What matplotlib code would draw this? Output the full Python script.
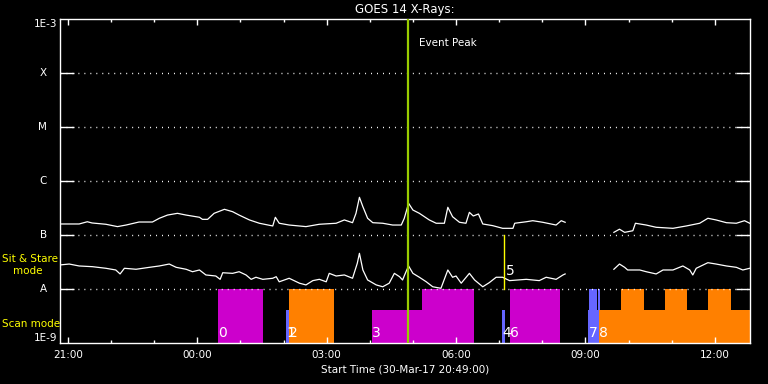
import numpy as np
import matplotlib
matplotlib.use("Agg")
import matplotlib.pyplot as plt
from matplotlib.ticker import MultipleLocator, NullLocator

nan = float("nan")

# time in hours relative to 31-Mar-17 00:00, start 30-Mar-17 20:49
t_start = -3 - 11 / 60
t_end = t_start + 16

# long channel (upper curve), W/m^2
long_t = [-3.20, -2.74, -2.55, -2.44, -2.12, -1.85, -1.65, -1.35, -1.04, -0.88, -0.69, -0.46, -0.26,
          0.05, 0.12, 0.24, 0.39, 0.63, 0.82, 0.97, 1.21, 1.44, 1.75, 1.81, 1.90, 2.13, 2.52, 2.83,
          3.22, 3.41, 3.60, 3.68, 3.76, 3.84, 3.95, 4.07, 4.30, 4.53, 4.73, 4.80, 4.90, 5.00, 5.15,
          5.38, 5.54, 5.73, 5.81, 5.92, 6.08, 6.23, 6.31, 6.40, 6.52, 6.62, 6.85, 7.08, 7.32, 7.36,
          7.63, 7.78, 8.01, 8.32, 8.44, 8.53, 9.00,
          9.66, 9.79, 9.91, 10.10, 10.16, 10.41, 10.64, 11.03, 11.34, 11.65, 11.84, 12.03, 12.27,
          12.50, 12.69, 12.81]
long_f = [1.60e-7, 1.60e-7, 1.76e-7, 1.67e-7, 1.58e-7, 1.43e-7, 1.53e-7, 1.74e-7, 1.74e-7, 2.04e-7,
          2.34e-7, 2.52e-7, 2.34e-7, 2.13e-7, 1.95e-7, 1.95e-7, 2.52e-7, 2.99e-7, 2.70e-7, 2.34e-7,
          1.90e-7, 1.65e-7, 1.47e-7, 2.13e-7, 1.65e-7, 1.53e-7, 1.43e-7, 1.58e-7, 1.65e-7, 1.90e-7,
          1.69e-7, 2.52e-7, 4.99e-7, 3.34e-7, 2.04e-7, 1.69e-7, 1.65e-7, 1.53e-7, 1.53e-7, 2.04e-7,
          3.86e-7, 2.90e-7, 2.52e-7, 1.90e-7, 1.65e-7, 1.65e-7, 3.26e-7, 2.18e-7, 1.72e-7, 1.65e-7,
          2.63e-7, 2.25e-7, 2.45e-7, 1.60e-7, 1.49e-7, 1.33e-7, 1.33e-7, 1.65e-7, 1.76e-7, 1.84e-7,
          1.72e-7, 1.53e-7, 1.84e-7, 1.72e-7, nan,
          1.12e-7, 1.28e-7, 1.12e-7, 1.20e-7, 1.65e-7, 1.53e-7, 1.39e-7, 1.33e-7, 1.47e-7, 1.65e-7,
          2.04e-7, 1.90e-7, 1.69e-7, 1.65e-7, 1.84e-7, 1.65e-7]

# short channel (lower curve), W/m^2
short_t = [-3.20, -2.97, -2.74, -2.43, -2.12, -1.89, -1.79, -1.69, -1.42, -1.11, -0.88, -0.65, -0.49,
           -0.26, -0.11, 0.05, 0.20, 0.43, 0.53, 0.59, 0.82, 0.97, 1.13, 1.25, 1.36, 1.52, 1.75,
           1.83, 1.90, 2.13, 2.37, 2.52, 2.68, 2.83, 2.99, 3.06, 3.22, 3.41, 3.60, 3.71, 3.76, 3.84,
           3.95, 4.15, 4.30, 4.45, 4.57, 4.69, 4.76, 4.84, 4.90, 5.00, 5.15, 5.31, 5.46, 5.65, 5.81,
           5.92, 6.00, 6.12, 6.31, 6.43, 6.62, 6.77, 6.93, 7.08, 7.24, 7.63, 7.93, 8.09, 8.32, 8.48,
           8.53, 9.00,
           9.66, 9.79, 9.91, 9.98, 10.26, 10.41, 10.64, 10.80, 11.03, 11.26, 11.42, 11.49, 11.57,
           11.84, 12.03, 12.27, 12.50, 12.65, 12.81]
short_f = [2.78e-8, 2.90e-8, 2.67e-8, 2.59e-8, 2.42e-8, 2.25e-8, 1.90e-8, 2.42e-8, 2.32e-8, 2.52e-8,
           2.67e-8, 2.90e-8, 2.52e-8, 2.32e-8, 2.09e-8, 2.25e-8, 1.82e-8, 1.74e-8, 1.51e-8, 2.00e-8,
           1.95e-8, 2.09e-8, 1.82e-8, 1.51e-8, 1.65e-8, 1.51e-8, 1.58e-8, 1.69e-8, 1.36e-8, 1.58e-8,
           1.28e-8, 1.19e-8, 1.43e-8, 1.51e-8, 1.36e-8, 1.95e-8, 1.74e-8, 1.82e-8, 1.58e-8, 2.99e-8,
           4.58e-8, 2.25e-8, 1.47e-8, 1.19e-8, 1.10e-8, 1.28e-8, 1.95e-8, 1.69e-8, 1.47e-8, 2.09e-8,
           2.67e-8, 1.95e-8, 1.65e-8, 1.36e-8, 1.10e-8, 1.03e-8, 2.25e-8, 1.65e-8, 1.74e-8, 1.28e-8,
           1.95e-8, 1.47e-8, 1.10e-8, 1.31e-8, 1.65e-8, 1.65e-8, 1.43e-8, 1.51e-8, 1.43e-8, 1.65e-8,
           1.51e-8, 1.82e-8, 1.90e-8, nan,
           2.32e-8, 2.90e-8, 2.52e-8, 2.25e-8, 2.25e-8, 2.09e-8, 1.90e-8, 2.25e-8, 2.25e-8, 2.67e-8,
           2.25e-8, 1.82e-8, 2.42e-8, 3.07e-8, 2.90e-8, 2.67e-8, 2.52e-8, 2.25e-8, 2.42e-8]

# observation blocks: start, end (hours), top level, colour, label
blk_start = [0.48, 2.06, 2.13, 4.06, 5.22, 7.07, 7.24, 9.07, 9.09, 9.30, 9.32, 9.83, 10.85, 11.85]
blk_end = [1.52, 2.13, 3.17, 5.22, 6.42, 7.14, 8.42, 9.32, 9.28, 9.33, t_end, 10.36, 11.36, 12.38]
blk_top = [1e-8, 4.1e-9, 1e-8, 4.1e-9, 1e-8, 4.1e-9, 1e-8, 4.1e-9, 1e-8, 1e-8, 4.1e-9, 1e-8, 1e-8, 1e-8]
blk_col = ["#CC00CC", "#6666FF", "#FF8000", "#CC00CC", "#CC00CC", "#6666FF", "#CC00CC", "#6666FF",
           "#6666FF", "#6666FF", "#FF8000", "#FF8000", "#FF8000", "#FF8000"]
blk_lab = ["0", "1", "2", "3", "", "4", "6", "7", "", "", "8", "", "", ""]

event_peak = 4.88
sit_stare_t = 7.12

y_ticks = [1e-9, 1e-8, 1e-7, 1e-6, 1e-5, 1e-4, 1e-3]
y_labels = ["1E-9", "A", "B", "C", "M", "X", "1E-3"]
x_ticks = [-3, 0, 3, 6, 9, 12]
x_labels = ["21:00", "00:00", "03:00", "06:00", "09:00", "12:00"]

plt.rcParams["font.family"] = "DejaVu Sans"
fig = plt.figure(figsize=(7.68, 3.84), dpi=100, facecolor="black")
ax = fig.add_axes([60 / 768, 1 - 343 / 384, 690 / 768, 324 / 384], facecolor="black")
ax.set_yscale("log")
ax.set_xlim(t_start, t_end)
ax.set_ylim(1e-9, 1e-3)

for s, e, top, c in zip(blk_start, blk_end, blk_top, blk_col):
    ax.bar(s, top - 1e-9, width=e - s, bottom=1e-9, align="edge", color=c, linewidth=0, zorder=1)
for s, lab in zip(blk_start, blk_lab):
    if lab:
        ax.text(s, 1.12e-9, lab, color="white", fontsize=10, ha="left", va="bottom", zorder=4)

ax.plot(long_t, long_f, color="white", lw=0.9, zorder=3)
ax.plot(short_t, short_f, color="white", lw=0.9, zorder=3)

ax.axvline(event_peak, color="#99CC00", lw=1.6, zorder=4)
ax.text(event_peak + 0.25, 3.6e-4, "Event Peak", color="white", fontsize=7.5, va="center")
ax.plot([sit_stare_t, sit_stare_t], [1e-8, 1e-7], color="#FFFF00", lw=1, zorder=4)
ax.text(sit_stare_t + 0.03, 1.62e-8, "5", color="white", fontsize=10, ha="left", va="bottom", zorder=4)

# axes styling
for sp in ax.spines.values():
    sp.set_color("white")
    sp.set_linewidth(1)
ax.set_yticks(y_ticks[1:-1])
ax.set_yticklabels([])
ax.yaxis.set_minor_locator(NullLocator())
ax.tick_params(axis="y", which="major", direction="in", length=10, width=1, color="white",
               left=True, right=True, labelleft=False)
ax.yaxis.grid(True, which="major", color="white", linestyle=(0, (0.7, 3.6)), lw=1)
for val, lab in zip(y_ticks, y_labels):
    if lab.startswith("1E"):
        va = "bottom" if val == 1e-9 else "top"
        ax.annotate(lab, xy=(0, val), xycoords=ax.get_yaxis_transform(), xytext=(-3, 0),
                    textcoords="offset pixels", ha="right", va=va, color="white", fontsize=7.5)
    else:
        ax.annotate(lab, xy=(0, val), xycoords=ax.get_yaxis_transform(), xytext=(-13, 0),
                    textcoords="offset pixels", ha="right", va="center", color="white", fontsize=7.5)

ax.set_xticks(x_ticks)
ax.set_xticklabels(x_labels)
ax.xaxis.set_minor_locator(MultipleLocator(1))
ax.tick_params(axis="x", which="major", direction="in", length=4.5, width=1, color="white",
               top=True, bottom=True, labelcolor="white", labelsize=7.5, pad=5)
ax.tick_params(axis="x", which="minor", direction="in", length=2.2, width=1, color="white",
               top=True, bottom=True)
ax.set_xlabel("Start Time (30-Mar-17 20:49:00)", color="white", fontsize=7.5, labelpad=3)
ax.set_title("GOES 14 X-Rays:", color="white", fontsize=8.5, pad=4)

fig.text(2 / 768, 1 - 259 / 384, "Sit & Stare", color="#FFFF00", fontsize=7.5, ha="left", va="center")
fig.text(13 / 768, 1 - 271 / 384, "mode", color="#FFFF00", fontsize=7.5, ha="left", va="center")
fig.text(2 / 768, 1 - 324 / 384, "Scan mode", color="#FFFF00", fontsize=7.5, ha="left", va="center")

fig.savefig("out.png", dpi=100, facecolor="black")
